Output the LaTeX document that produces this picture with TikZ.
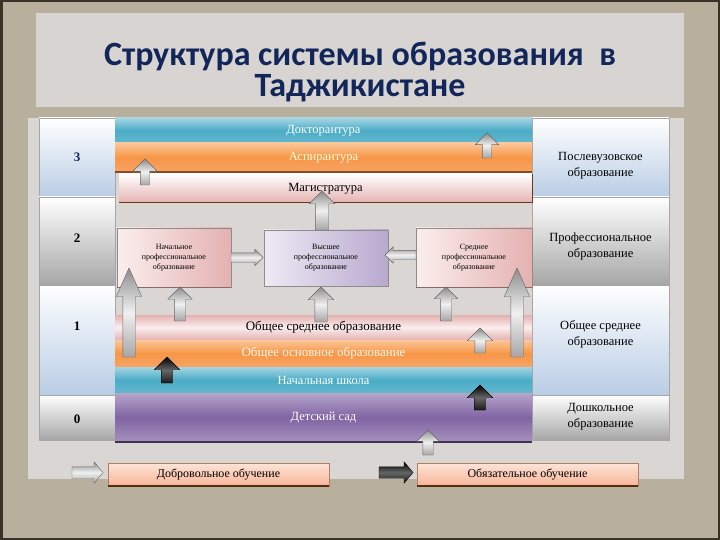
\documentclass[tikz,border=0pt]{standalone}
\usepackage{fontspec}
\setmainfont{Liberation Serif}
\newfontfamily\titlefont{Carlito}
\usetikzlibrary{positioning,shapes.arrows}

\definecolor{navy}{HTML}{13265A}
\definecolor{parch}{HTML}{B9AF9D}
\definecolor{frame}{HTML}{3A3227}
\definecolor{panel}{HTML}{D9D6D4}
\definecolor{tealL}{HTML}{A5D5E3}
\definecolor{tealM}{HTML}{4BACC6}
\definecolor{tealD}{HTML}{62B8CE}
\definecolor{orL}{HTML}{FBC79A}
\definecolor{orM}{HTML}{F79646}
\definecolor{orD}{HTML}{F6A466}
\definecolor{purL}{HTML}{B6A5CB}
\definecolor{purM}{HTML}{8064A2}
\definecolor{pinkL}{HTML}{FBEEEE}
\definecolor{pinkM}{HTML}{E4B1B0}
\definecolor{lavL}{HTML}{EEEAF4}
\definecolor{lavM}{HTML}{B8A9CF}
\definecolor{colblue}{HTML}{B9CDE5}
\definecolor{colgrey}{HTML}{A6A6A6}
\definecolor{peachL}{HTML}{FDE4D8}
\definecolor{peachM}{HTML}{F8B497}
\definecolor{brownline}{HTML}{8A4A1E}

\begin{document}
\begin{tikzpicture}[x=1pt,y=-1pt,
    every node/.style={outer sep=0pt},
    colbox/.style={draw=black!35, inner sep=0pt, top color=white, align=center,
      font=\fontsize{13}{16}\selectfont},
    bluebox/.style={colbox, bottom color=colblue},
    greybox/.style={colbox, bottom color=colgrey},
    numtxt/.style={font=\bfseries\fontsize{13}{15}\selectfont},
    rtxt/.style={align=center, font=\fontsize{12.5}{16}\selectfont},
    band/.style={inner sep=0pt, minimum width=417pt, font=\fontsize{12.5}{15}\selectfont},
    tealband/.style={band, top color=tealL, bottom color=tealD, middle color=tealM, text=white},
    orband/.style={band, top color=orL, bottom color=orD, middle color=orM},
    pinkband/.style={band, top color=pinkM, bottom color=pinkM, middle color=pinkL},
    purband/.style={band, top color=purL, bottom color=purL!70!purM, middle color=purM, text=white},
    probox/.style={draw=black!45, inner sep=0pt, align=center,
      font=\fontsize{8}{10}\selectfont, left color=pinkL, right color=pinkM},
    legbox/.style={draw=brownline!70, inner sep=0pt, minimum width=221pt, minimum height=23pt,
      top color=peachL, bottom color=peachM, font=\fontsize{12}{14}\selectfont},
    garr/.style={single arrow, draw=black!60, inner xsep=0pt, anchor=tail,
      top color=black!45, bottom color=black!35, middle color=black!6},
    barr/.style={single arrow, draw=black, inner xsep=0pt, anchor=tail,
      top color=black, bottom color=black!90, middle color=black!60},
    upar/.style={rotate=90},
    leftar/.style={rotate=180}]

  \useasboundingbox (0,0) rectangle (720,540);
  % background
  \fill[parch] (0,0) rectangle (720,540);
  \draw[frame, line width=5pt] (0,0) rectangle (720,540);
  \fill[panel!96!parch] (36,13) rectangle (684,107);
  \fill[panel] (28,118) rectangle (684,479);

  \node[font=\titlefont\bfseries\fontsize{34}{31}\selectfont, text=navy, align=center]
    (title) at (360,72) {Структура системы образования\ \ в\\Таджикистане};

  % levels
  \node[bluebox, minimum width=76pt, minimum height=79pt] (lv3) at (77,157.5) {};
  \node[greybox, minimum width=76pt, minimum height=88pt, below=0pt of lv3] (lv2) {};
  \node[bluebox, minimum width=76pt, minimum height=110pt, below=0pt of lv2] (lv1) {};
  \node[greybox, minimum width=76pt, minimum height=45pt, below=0pt of lv1] (lv0) {};
  \node[numtxt, text=navy] (n3) at (lv3) {3};
  \node[numtxt, yshift=3pt] (n2) at (lv2) {2};
  \node[numtxt, yshift=14pt] (n1) at (lv1) {1};
  \node[numtxt, yshift=-2pt] (n0) at (lv0) {0};

  \node[bluebox, minimum width=137pt, minimum height=79pt] (r3) at (600.5,157.5) {};
  \node[greybox, minimum width=137pt, minimum height=88pt, below=0pt of r3] (r2) {};
  \node[bluebox, minimum width=137pt, minimum height=110pt, below=0pt of r2] (r1) {};
  \node[greybox, minimum width=137pt, minimum height=45pt, below=0pt of r1] (r0) {};
  \node[rtxt, yshift=-8.5pt] (t3) at (r3) {Послевузовское\\образование};
  \node[rtxt, yshift=-5pt] (t2) at (r2) {Профессиональное\\образование};
  \node[rtxt, yshift=5.5pt] (t1) at (r1) {Общее среднее\\образование};
  \node[rtxt, yshift=1pt] (t0) at (r0) {Дошкольное\\образование};

  % bands
  \node[tealband, minimum height=25pt] (dok) at (323.5,130.5) {Докторантура};
  \node[orband, minimum height=29pt, text=yellow!15, below=0pt of dok] (asp) {Аспирантура};
  \node[band, minimum width=413pt, minimum height=29pt, top color=white,
    bottom color=pinkM] (mag) at (325.5,188.5) {Магистратура};
  \node[probox, minimum width=114pt, minimum height=59pt] (npo) at (174,257.5)
    {Начальное\\профессиональное\\образование};
  \node[probox, minimum width=124pt, minimum height=56pt, left color=lavL,
    right color=lavM] (vpo) at (326,258) {Высшее\\профессиональное\\образование};
  \node[probox, minimum width=116pt, minimum height=59pt] (spo) at (474,257.5)
    {Среднее\\профессиональное\\образование};
  \node[pinkband, minimum height=25pt, font=\fontsize{13}{15}\selectfont] (osr) at (323.5,327.5)
    {Общее среднее образование};
  \node[orband, minimum height=27pt, text=orange!8, below=0pt of osr,
    font=\fontsize{13}{15}\selectfont] (oos) {Общее основное образование};
  \node[tealband, minimum height=26pt, below=0pt of oos] (nsh) {Начальная школа};
  \node[purband, minimum height=49pt, below=0pt of nsh] (ds) {Детский сад};
  \draw[brownline, line width=2pt] (asp.south west) -- (asp.south east);
  \draw[brownline!80!black, line width=1pt] (mag.south west) -- (mag.south east) -- (mag.north east);
  \draw[purM!50!black, line width=2pt] (ds.south west) -- (ds.south east);
  \draw[pinkM!60!black, line width=1pt] (npo.south west) -- (npo.south east);
  \draw[pinkM!60!black, line width=1pt] (spo.south west) -- (spo.south east);

  % arrows
  \node[garr, upar, minimum height=26pt, inner ysep=4.5pt, single arrow head extend=7.5pt] (a1) at (145,185) {};
  \node[garr, upar, minimum height=25pt, inner ysep=4.5pt, single arrow head extend=7pt] (a2) at (487,158) {};
  \node[garr, upar, minimum height=39pt, inner ysep=6.5pt, single arrow head extend=6pt] (a3) at ([xshift=-4pt]vpo.north) {};
  \node[garr, minimum height=32pt, inner ysep=4.5pt, single arrow head extend=3.5pt] (a4) at (npo.east) {};
  \node[garr, leftar, minimum height=31pt, inner ysep=4.5pt, single arrow head extend=3.5pt] (a5) at ([yshift=2.5pt]spo.west) {};
  \node[garr, upar, minimum height=34pt, inner ysep=5.5pt, single arrow head extend=6.5pt] (a6) at (180,321) {};
  \node[garr, upar, minimum height=35pt, inner ysep=6pt, single arrow head extend=6.5pt] (a7) at (321,322) {};
  \node[garr, upar, minimum height=34pt, inner ysep=5.5pt, single arrow head extend=6pt] (a8) at (446,321) {};
  \node[garr, upar, minimum height=89pt, inner ysep=6pt, single arrow head extend=6.5pt,
    single arrow tip angle=48] (a9) at (129,357) {};
  \node[garr, upar, minimum height=89pt, inner ysep=6pt, single arrow head extend=6.5pt,
    single arrow tip angle=48] (a10) at (517,357) {};
  \node[garr, upar, minimum height=25pt, inner ysep=5pt, single arrow head extend=7.5pt] (a11) at (480,353) {};
  \node[barr, upar, minimum height=26pt, inner ysep=5.5pt, single arrow head extend=7pt] (b1) at (167,383) {};
  \node[barr, upar, minimum height=25pt, inner ysep=5.5pt, single arrow head extend=7pt] (b2) at (480,410) {};
  \node[garr, upar, minimum height=25pt, inner ysep=5pt, single arrow head extend=6pt] (a12) at (428,455) {};

  % legend
  \node[legbox] (vol) at (218.5,474.5) {Добровольное обучение};
  \node[legbox] (obl) at (527.5,474.5) {Обязательное обучение};
  \draw[brownline!60!black, line width=1.5pt] (vol.south west) -- (vol.south east);
  \draw[brownline!60!black, line width=1.5pt] (obl.south west) -- (obl.south east);
  \node[garr, minimum height=31pt, inner ysep=5.5pt, single arrow head extend=5pt,
    single arrow tip angle=100] (a13) at (72,472.5) {};
  \node[barr, minimum height=34pt, inner ysep=5.5pt, single arrow head extend=5pt,
    single arrow tip angle=100] (b3) at (379,472.5) {};
\end{tikzpicture}
\end{document}
